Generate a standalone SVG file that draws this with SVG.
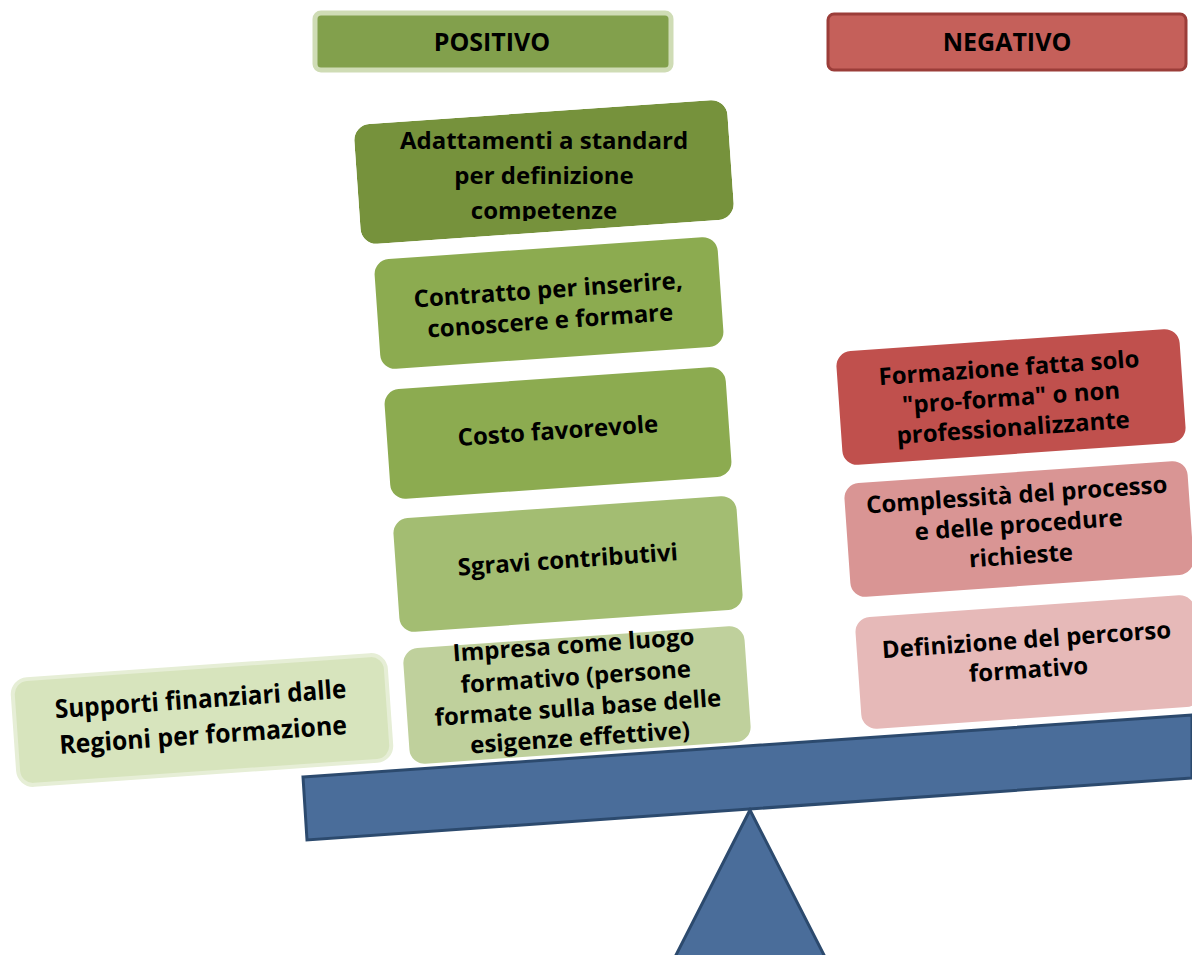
<svg xmlns="http://www.w3.org/2000/svg" width="1192" height="955" viewBox="0 0 1192 955">
<defs>
<style>
text{font-family:"Open Sans","Noto Sans","Liberation Sans",sans-serif;font-weight:bold;fill:#000;text-anchor:middle}
.t{font-size:24px}
.h{font-size:25px}
.s{font-size:26px}
</style>
<clipPath id="c1"><rect x="-187" y="-60" width="374" height="120" rx="16" transform="translate(544,172) rotate(-4)"/></clipPath>
<clipPath id="c1t"><rect x="300" y="100" width="500" height="121"/></clipPath>
</defs>
<rect width="1192" height="955" fill="#fff"/>
<g id="connectors"/>
<g id="positivo">
<rect x="315" y="13" width="356" height="57" rx="6" fill="#82a04c" stroke="#cfdcb5" stroke-width="5"/>
<text class="h" x="492" y="51">POSITIVO</text>
</g>
<g id="negativo">
<rect x="828" y="14" width="358" height="56" rx="6" fill="#c5605a" stroke="#9b3d39" stroke-width="3"/>
<text class="h" x="1007" y="51">NEGATIVO</text>
</g>
<g id="beam">
<polygon points="303,777 1192,715 1192,778 307,840" fill="#4a6d9a" stroke="#2c4a6e" stroke-width="3"/>
</g>
<g id="fulcrum">
<polygon points="750,810 675,957 825,957" fill="#4a6d9a" stroke="#2c4a6e" stroke-width="3"/>
</g>
<g id="box1">
<g clip-path="url(#c1)">
<rect x="-187" y="-60" width="374" height="120" rx="16" transform="translate(544,172) rotate(-4)" fill="#76923c"/>
</g>
<g clip-path="url(#c1t)">
<text class="t" x="544" y="149">Adattamenti a standard</text>
<text class="t" x="544" y="184">per definizione</text>
<text class="t" x="544" y="219">competenze</text>
</g>
</g>
<g id="box2" transform="translate(549,303) rotate(-4)">
<rect x="-172" y="-55" width="344" height="110" rx="15" fill="#8cab50"/>
<text class="t" x="0" y="-5">Contratto  per inserire,</text>
<text class="t" x="0" y="26">conoscere e formare</text>
</g>
<g id="box3" transform="translate(558,433) rotate(-4)">
<rect x="-171" y="-55" width="342" height="110" rx="15" fill="#8cab50"/>
<text class="t" x="0" y="6">Costo favorevole</text>
</g>
<g id="box4" transform="translate(568,564) rotate(-4)">
<rect x="-172" y="-57" width="344" height="114" rx="15" fill="#a3bd72"/>
<text class="t" x="0" y="4">Sgravi contributivi</text>
</g>
<g id="box5" transform="translate(577,695) rotate(-4)">
<rect x="-171" y="-58" width="342" height="116" rx="15" fill="#bfd09c"/>
<text class="t" x="0" y="-42">Impresa come luogo</text>
<text class="t" x="0" y="-10">formativo (persone</text>
<text class="t" x="0" y="21">formate sulla base delle</text>
<text class="t" x="0" y="51">esigenze effettive)</text>
</g>
<g id="supporti" transform="translate(202,720) rotate(-4)">
<rect x="-187" y="-53" width="374" height="106" rx="15" fill="#d7e4bd" stroke="#e6eed6" stroke-width="4"/>
<text class="s" x="0" y="-12" textLength="292" lengthAdjust="spacingAndGlyphs">Supporti finanziari dalle</text>
<text class="s" x="0" y="24" textLength="288" lengthAdjust="spacingAndGlyphs">Regioni per formazione</text>
</g>
<g id="neg1" transform="translate(1011,397) rotate(-4)">
<rect x="-172" y="-57" width="344" height="114" rx="15" fill="#c0504d"/>
<text class="t" x="0" y="-21">Formazione fatta solo</text>
<text class="t" x="0" y="9">"pro-forma"  o non</text>
<text class="t" x="0" y="39">professionalizzante</text>
</g>
<g id="neg2" transform="translate(1019,529) rotate(-4)">
<rect x="-172" y="-57" width="344" height="114" rx="15" fill="#d99594"/>
<text class="t" x="0" y="-26">Complessità del processo</text>
<text class="t" x="0" y="4">e delle procedure</text>
<text class="t" x="0" y="35">richieste</text>
</g>
<g id="neg3" transform="translate(1028,662) rotate(-4)">
<rect x="-170" y="-56" width="340" height="112" rx="15" fill="#e6b9b8"/>
<text class="t" x="0" y="-14">Definizione del percorso</text>
<text class="t" x="0" y="16">formativo</text>
</g>
</svg>
